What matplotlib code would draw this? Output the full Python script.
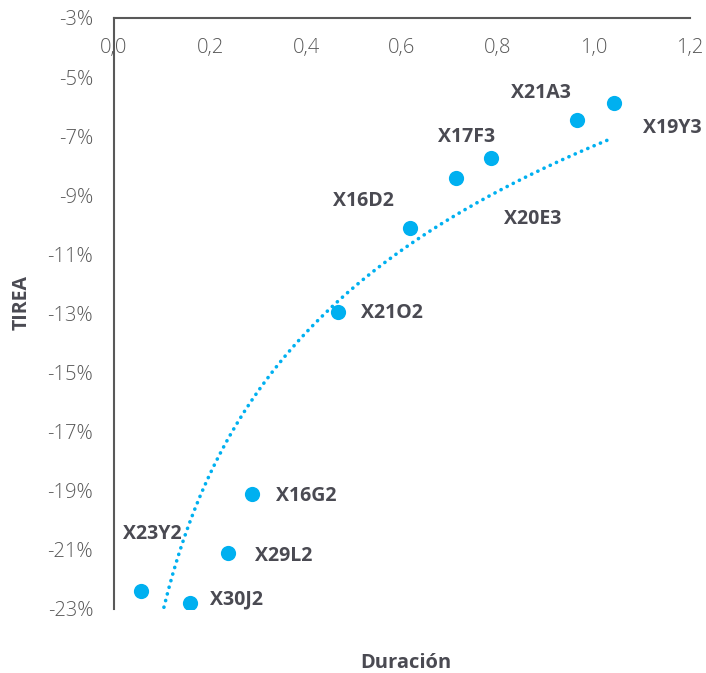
import matplotlib
matplotlib.use("Agg")
import matplotlib.pyplot as plt
import numpy as np
from matplotlib.ticker import FuncFormatter

plt.rcParams["font.family"] = ["Open Sans", "DejaVu Sans"]

# data
bonos = ["X23Y2", "X30J2", "X29L2", "X16G2", "X21O2",
         "X16D2", "X20E3", "X17F3", "X21A3", "X19Y3"]
duracion = [0.056, 0.158, 0.238, 0.288, 0.467, 0.617, 0.712, 0.785, 0.965, 1.042]
tirea = [-22.4, -22.8, -21.1, -19.1, -12.95, -10.1, -8.4, -7.74, -6.45, -5.88]

# label offsets in pixels (dx, dy up)
offsets = {
    "X23Y2": (11, 57), "X30J2": (47, 4), "X29L2": (55, -3), "X16G2": (54, -2),
    "X21O2": (54, -1), "X16D2": (-47, 27), "X20E3": (77, -41), "X17F3": (-24, 21),
    "X21A3": (-36, 27), "X19Y3": (58, -25),
}

BLUE = "#00B0F0"
GREY = "#595959"
DARK = "#4a4a52"

fig = plt.figure(figsize=(7.06, 6.73), dpi=100)
ax = fig.add_axes([114 / 706, 1 - 609 / 673, 576 / 706, 591 / 673])

x = np.array(duracion)
y = np.array(tirea)

# logarithmic trendline (least squares on ln x)
a, b = np.polyfit(np.log(x), y, 1)
xt = np.linspace(0.104, 1.035, 200)
ax.plot(xt, a * np.log(xt) + b, color=BLUE, lw=2.6,
        linestyle=(0, (0.05, 1.85)), dash_capstyle="round", zorder=2)

ax.scatter(x, y, s=120, color=BLUE, zorder=3, linewidths=0)

for name, xi, yi in zip(bonos, x, y):
    dx, dy = offsets[name]
    ax.annotate(name, (xi, yi), xytext=(dx * 0.72, dy * 0.72),
                textcoords="offset points", ha="center", va="center",
                fontsize=14, fontweight="bold", color=DARK)

ax.set_xlim(0, 1.2)
ax.set_ylim(-23, -3)
ax.set_xticks(np.arange(0, 1.21, 0.2))
ax.set_yticks(np.arange(-23, -2, 2))
ax.xaxis.set_major_formatter(FuncFormatter(lambda v, p: f"{v:.1f}".replace(".", ",")))
ax.yaxis.set_major_formatter(FuncFormatter(lambda v, p: f"{v:.0f}%"))

ax.xaxis.tick_top()
ax.tick_params(axis="x", length=0, pad=-29, labelsize=14.5, labelcolor=GREY)
ax.tick_params(axis="y", length=0, pad=15, labelsize=14.5, labelcolor=GREY)
for lab in ax.get_xticklabels() + ax.get_yticklabels():
    lab.set_fontweight("light")

for side in ["right", "bottom"]:
    ax.spines[side].set_visible(False)
for side in ["top", "left"]:
    ax.spines[side].set_color(GREY)
    ax.spines[side].set_linewidth(1.5)

fig.text(406 / 706, 1 - 663 / 673, "Duración", ha="center", va="center",
         fontsize=14.5, fontweight="bold", color=DARK)
fig.text(22 / 706, 1 - 302 / 673, "TIREA", ha="center", va="center",
         rotation=90, fontsize=14, fontweight="bold", color=DARK)

fig.savefig("out.png", dpi=100)
